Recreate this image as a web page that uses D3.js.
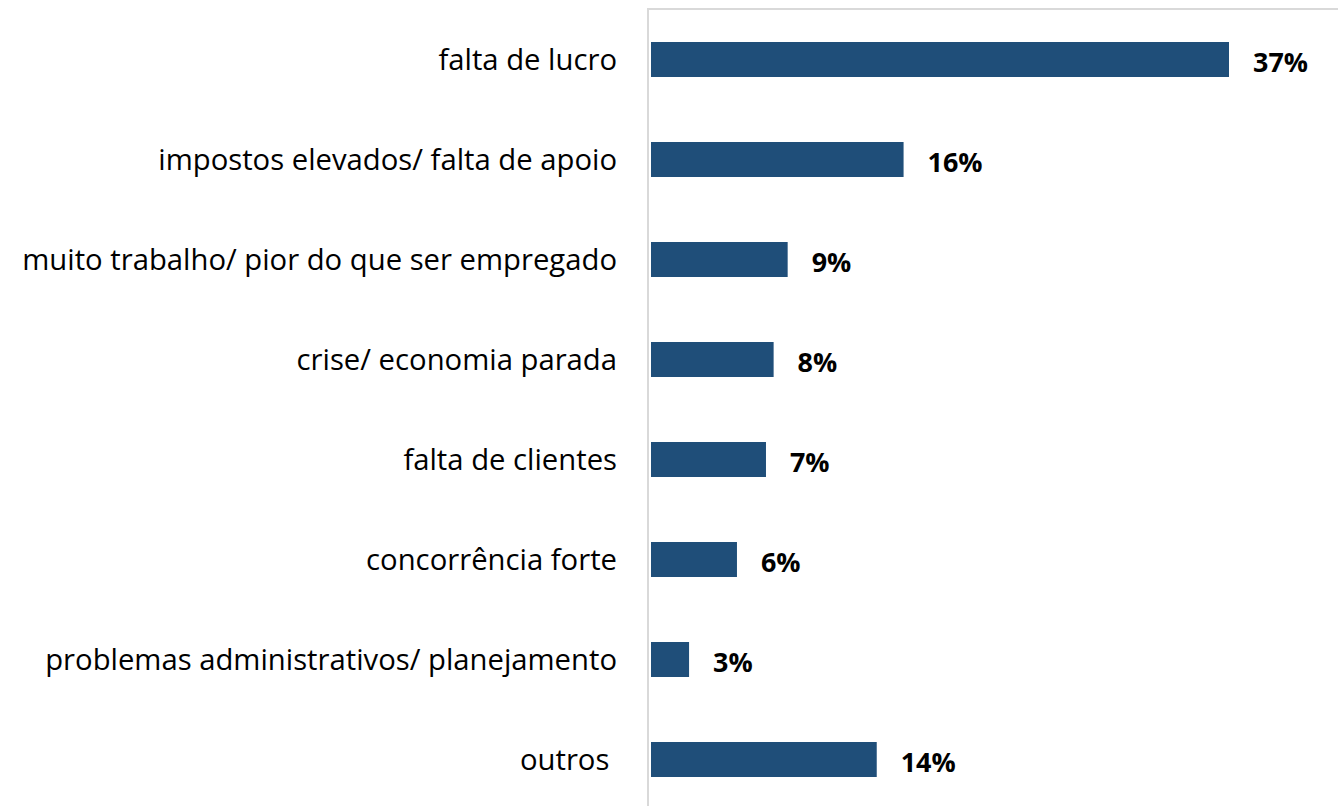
<!DOCTYPE html>
<meta charset="utf-8">
<style>
body {
  margin: 0;
  background: #fff;
}

svg {
  display: block;
  font-family: "Open Sans", sans-serif;
}

.cat {
  fill: #000;
}

.val {
  font-weight: bold;
  fill: #000;
}

.frame {
  stroke: #d9d9d9;
  stroke-width: 2px;
  fill: none;
}
</style>
<body>
<script src="https://cdnjs.cloudflare.com/ajax/libs/d3/7.8.5/d3.min.js"></script>
<script>

var categories = [
  "falta de lucro",
  "impostos elevados/ falta de apoio",
  "muito trabalho/ pior do que ser empregado",
  "crise/ economia parada",
  "falta de clientes",
  "concorrência forte",
  "problemas administrativos/ planejamento",
  "outros "
];

// bar lengths (in %)
var values = [37.05, 16.19, 8.76, 7.86, 7.37, 5.51, 2.44, 14.47];

// the labels printed next to the bars
var valueLabels = ["37%", "16%", "9%", "8%", "7%", "6%", "3%", "14%"];

var width = 1338,
    height = 806;

var x = d3.scaleLinear()
    .domain([0, 37.05])
    .range([651, 1229]);

var y = d3.scaleBand()
    .domain(categories)
    .range([9.5, 809.5])
    .paddingInner(0.65)
    .paddingOuter(0.325);

var svg = d3.select("body").append("svg")
    .attr("width", width)
    .attr("height", height);

// size the fonts so the widest texts match the picture
function fitSize(str, cls, target) {
  var t = svg.append("text").attr("class", cls).style("font-size", "100px")
      .style("white-space", "pre").text(str);
  var w = t.node().getComputedTextLength();
  t.remove();
  return 100 * target / w;
}

var catSize = fitSize(categories[2], "cat", 595),
    valSize = fitSize(valueLabels[0], "val", 55);

// plot area border (left and top visible)
svg.append("path")
    .attr("class", "frame")
    .attr("d", "M648," + height + "V9H" + width);

svg.append("g")
  .selectAll("rect")
  .data(values)
  .enter().append("rect")
    .attr("x", x(0))
    .attr("y", function(d, i) { return y(categories[i]); })
    .attr("width", function(d) { return x(d) - x(0); })
    .attr("height", y.bandwidth())
    .attr("fill", "#1f4e79");

svg.append("g")
  .selectAll("text")
  .data(categories)
  .enter().append("text")
    .attr("class", "cat")
    .style("font-size", catSize + "px")
    .attr("x", 617)
    .attr("y", function(d) { return y(d) + y.bandwidth() / 2; })
    .attr("dy", ".35em")
    .attr("text-anchor", "end")
    .style("white-space", "pre")
    .text(function(d) { return d; });

svg.append("g")
  .selectAll("text")
  .data(values)
  .enter().append("text")
    .attr("class", "val")
    .style("font-size", valSize + "px")
    .attr("x", function(d) { return x(d) + 24; })
    .attr("y", function(d, i) { return y(categories[i]) + y.bandwidth() / 2 + 3; })
    .attr("dy", ".35em")
    .text(function(d, i) { return valueLabels[i]; });

</script>
